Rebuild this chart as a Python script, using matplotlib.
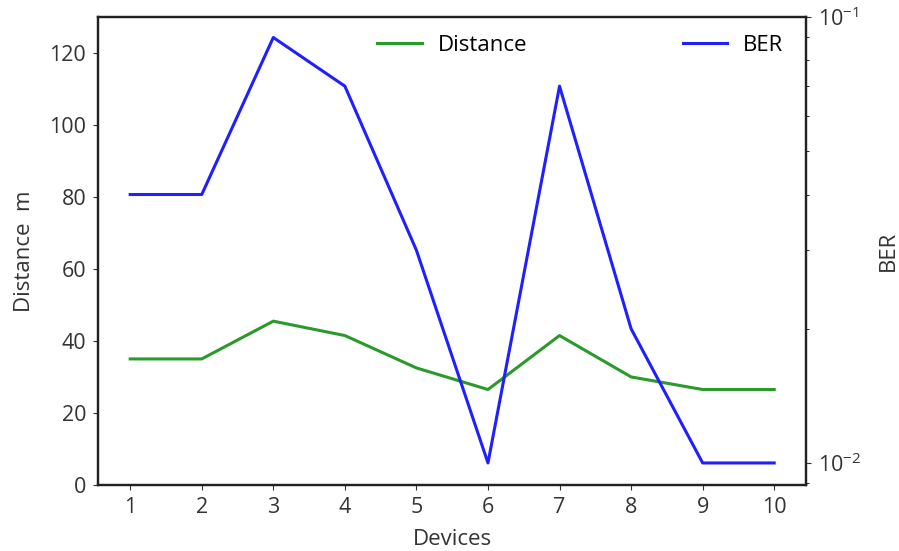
import matplotlib
matplotlib.use("Agg")
import matplotlib.pyplot as plt

devices = [1, 2, 3, 4, 5, 6, 7, 8, 9, 10]
distance = [35, 35, 45.5, 41.5, 32.5, 26.5, 41.5, 30, 26.5, 26.5]
ber = [0.040, 0.040, 0.090, 0.070, 0.030, 0.010, 0.070, 0.020, 0.010, 0.010]

plt.rcParams["font.family"] = ["Open Sans", "DejaVu Sans"]
plt.rcParams["mathtext.fontset"] = "custom"
plt.rcParams["mathtext.rm"] = "Open Sans"
plt.rcParams["mathtext.it"] = "Open Sans"

tick_size = 15.5
label_size = 16
text_color = "#333333"

fig = plt.figure(figsize=(8.99, 5.51), dpi=100)
ax = fig.add_axes([0.109, 0.120, 0.788, 0.849])
ax2 = ax.twinx()

ax.plot(devices, distance, color="#2a9a2a", lw=2.2, label="Distance")
ax2.plot(devices, ber, color="#1f1fff", lw=2.2, label="BER")

ax.set_ylim(0, 130)
ax.set_xticks(devices)
ax.set_xlabel("Devices", color=text_color, fontsize=label_size, labelpad=8)
ax.set_ylabel("Distance  m", color=text_color, fontsize=label_size, labelpad=10)

ax2.set_yscale("log")
ax2.set_ylim(0.00893, 0.1)
ax2.set_ylabel("BER", color=text_color, fontsize=label_size, labelpad=12)

for a in (ax, ax2):
    a.tick_params(colors=text_color, labelsize=tick_size, pad=5)
    for s in a.spines.values():
        s.set_linewidth(1.6)
        s.set_color("#222222")

ax.legend(loc="upper center", frameon=False, fontsize=label_size,
          bbox_to_anchor=(0.5, 1.005), handlelength=2.0, handletextpad=0.7)
ax2.legend(loc="upper right", frameon=False, fontsize=label_size,
           bbox_to_anchor=(0.995, 1.005), handlelength=2.0, handletextpad=0.7)

fig.savefig("out.png", dpi=100, facecolor="white")
